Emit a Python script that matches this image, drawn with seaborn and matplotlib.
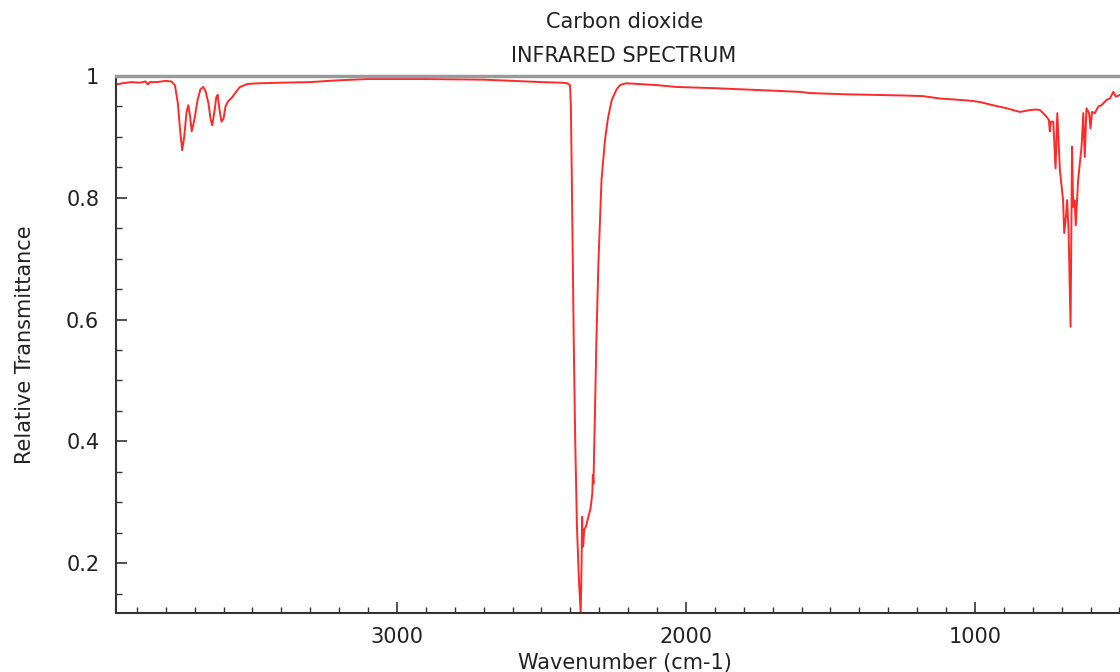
import matplotlib
matplotlib.use("Agg")
import matplotlib.pyplot as plt
from matplotlib.ticker import MultipleLocator, FixedLocator, FuncFormatter
import seaborn as sns
import pandas as pd

# Carbon dioxide IR spectrum
wavenumber = [
    3972, 3950, 3920, 3890, 3870, 3862, 3855, 3830, 3800, 3780,
    3768, 3758, 3750, 3743, 3736, 3728, 3722, 3716, 3710, 3700,
    3690, 3680, 3670, 3662, 3652, 3645, 3639, 3632, 3625, 3620,
    3614, 3607, 3600, 3593, 3585, 3570, 3555, 3543, 3516, 3480,
    3400, 3300, 3200, 3100, 2900, 2700, 2600, 2500, 2430, 2410,
    2401, 2398, 2394, 2388, 2383, 2377, 2370, 2364, 2361, 2359,
    2357, 2355, 2352, 2346, 2338, 2330, 2324, 2322, 2320, 2315,
    2310, 2303, 2292, 2280, 2270, 2257, 2240, 2228, 2217, 2205,
    2100, 2032, 1900, 1803, 1700, 1606, 1571, 1450, 1340, 1250,
    1180, 1121, 1060, 1007, 980, 938, 890, 844, 810, 787,
    775, 764, 752, 744, 741, 737, 729, 721, 715, 706,
    695, 691, 685, 681, 676, 669, 664, 660, 655, 651,
    643, 631, 625, 620, 614, 605, 600, 595, 585, 573,
    562, 544, 533, 521, 512, 498,
]
transmittance = [
    0.986, 0.988, 0.990, 0.989, 0.991, 0.986, 0.990, 0.990, 0.992, 0.991,
    0.985, 0.955, 0.910, 0.878, 0.900, 0.940, 0.952, 0.935, 0.909, 0.930,
    0.960, 0.978, 0.982, 0.975, 0.955, 0.930, 0.919, 0.940, 0.965, 0.969,
    0.945, 0.925, 0.930, 0.950, 0.958, 0.965, 0.975, 0.982, 0.987, 0.988,
    0.989, 0.990, 0.993, 0.995, 0.995, 0.994, 0.992, 0.990, 0.989, 0.988,
    0.985, 0.950, 0.800, 0.560, 0.400, 0.260, 0.170, 0.118, 0.200, 0.276,
    0.227, 0.230, 0.255, 0.260, 0.275, 0.290, 0.314, 0.345, 0.330, 0.440,
    0.560, 0.690, 0.830, 0.895, 0.930, 0.960, 0.978, 0.985, 0.987, 0.988,
    0.985, 0.982, 0.980, 0.978, 0.976, 0.974, 0.972, 0.970, 0.969, 0.968,
    0.967, 0.963, 0.961, 0.959, 0.957, 0.952, 0.947, 0.941, 0.944, 0.945,
    0.944, 0.939, 0.933, 0.928, 0.909, 0.925, 0.925, 0.848, 0.939, 0.846,
    0.796, 0.742, 0.769, 0.796, 0.747, 0.588, 0.884, 0.785, 0.796, 0.755,
    0.829, 0.884, 0.939, 0.867, 0.947, 0.939, 0.914, 0.941, 0.939, 0.950,
    0.952, 0.961, 0.963, 0.974, 0.966, 0.969,
]

y_ticks = [0.2, 0.4, 0.6, 0.8, 1.0]
x_ticks = [3000, 2000, 1000]

df = pd.DataFrame({"wavenumber": wavenumber, "transmittance": transmittance})

sns.set_style("ticks")
plt.rcParams["font.family"] = ["DejaVu Sans"]
text_color = "#222222"
fs = 15

fig = plt.figure(figsize=(11.2, 6.72), dpi=100)
ax = fig.add_axes([116 / 1120, 1 - 613 / 672, 1 - 116 / 1120, (613 - 76) / 672])

sns.lineplot(data=df, x="wavenumber", y="transmittance", ax=ax,
             sort=False, estimator=None, color="#ff2a2a", linewidth=1.4)

ax.set_xlim(3972, 498)
ax.set_ylim(min(transmittance), 1.0)

ax.xaxis.set_major_locator(FixedLocator(x_ticks))
ax.xaxis.set_minor_locator(MultipleLocator(100))
ax.yaxis.set_major_locator(FixedLocator(y_ticks))
ax.yaxis.set_minor_locator(MultipleLocator(0.05))
ax.yaxis.set_major_formatter(FuncFormatter(lambda v, p: f"{v:g}"))

ax.tick_params(which="both", direction="in", colors="#333333",
               labelcolor=text_color, labelsize=fs, top=False, right=False)
ax.tick_params(axis="x", which="major", length=8, width=1.2, pad=10)
ax.tick_params(axis="y", which="major", length=8, width=1.2, pad=12)
ax.tick_params(which="minor", length=4, width=1.0)

for side in ["left", "bottom"]:
    ax.spines[side].set_color("#333333")
    ax.spines[side].set_linewidth(1.5)
ax.spines["right"].set_visible(False)
ax.spines["top"].set_visible(True)
ax.spines["top"].set_color("#9a9a9a")
ax.spines["top"].set_linewidth(2.5)

ax.set_xlabel("Wavenumber (cm-1)", fontsize=fs, color=text_color)
ax.set_ylabel("Relative Transmittance", fontsize=fs, color=text_color)
ax.xaxis.set_label_coords(0.5065, -0.074)
ax.yaxis.set_label_coords(-0.081, 0.5)

fig.text(625 / 1120, 1 - 22 / 672, "Carbon dioxide", ha="center", va="center",
         fontsize=fs, color=text_color)
fig.text(624 / 1120, 1 - 56 / 672, "INFRARED SPECTRUM", ha="center", va="center",
         fontsize=fs, color=text_color)

fig.savefig("out.png", dpi=100, facecolor="white")
